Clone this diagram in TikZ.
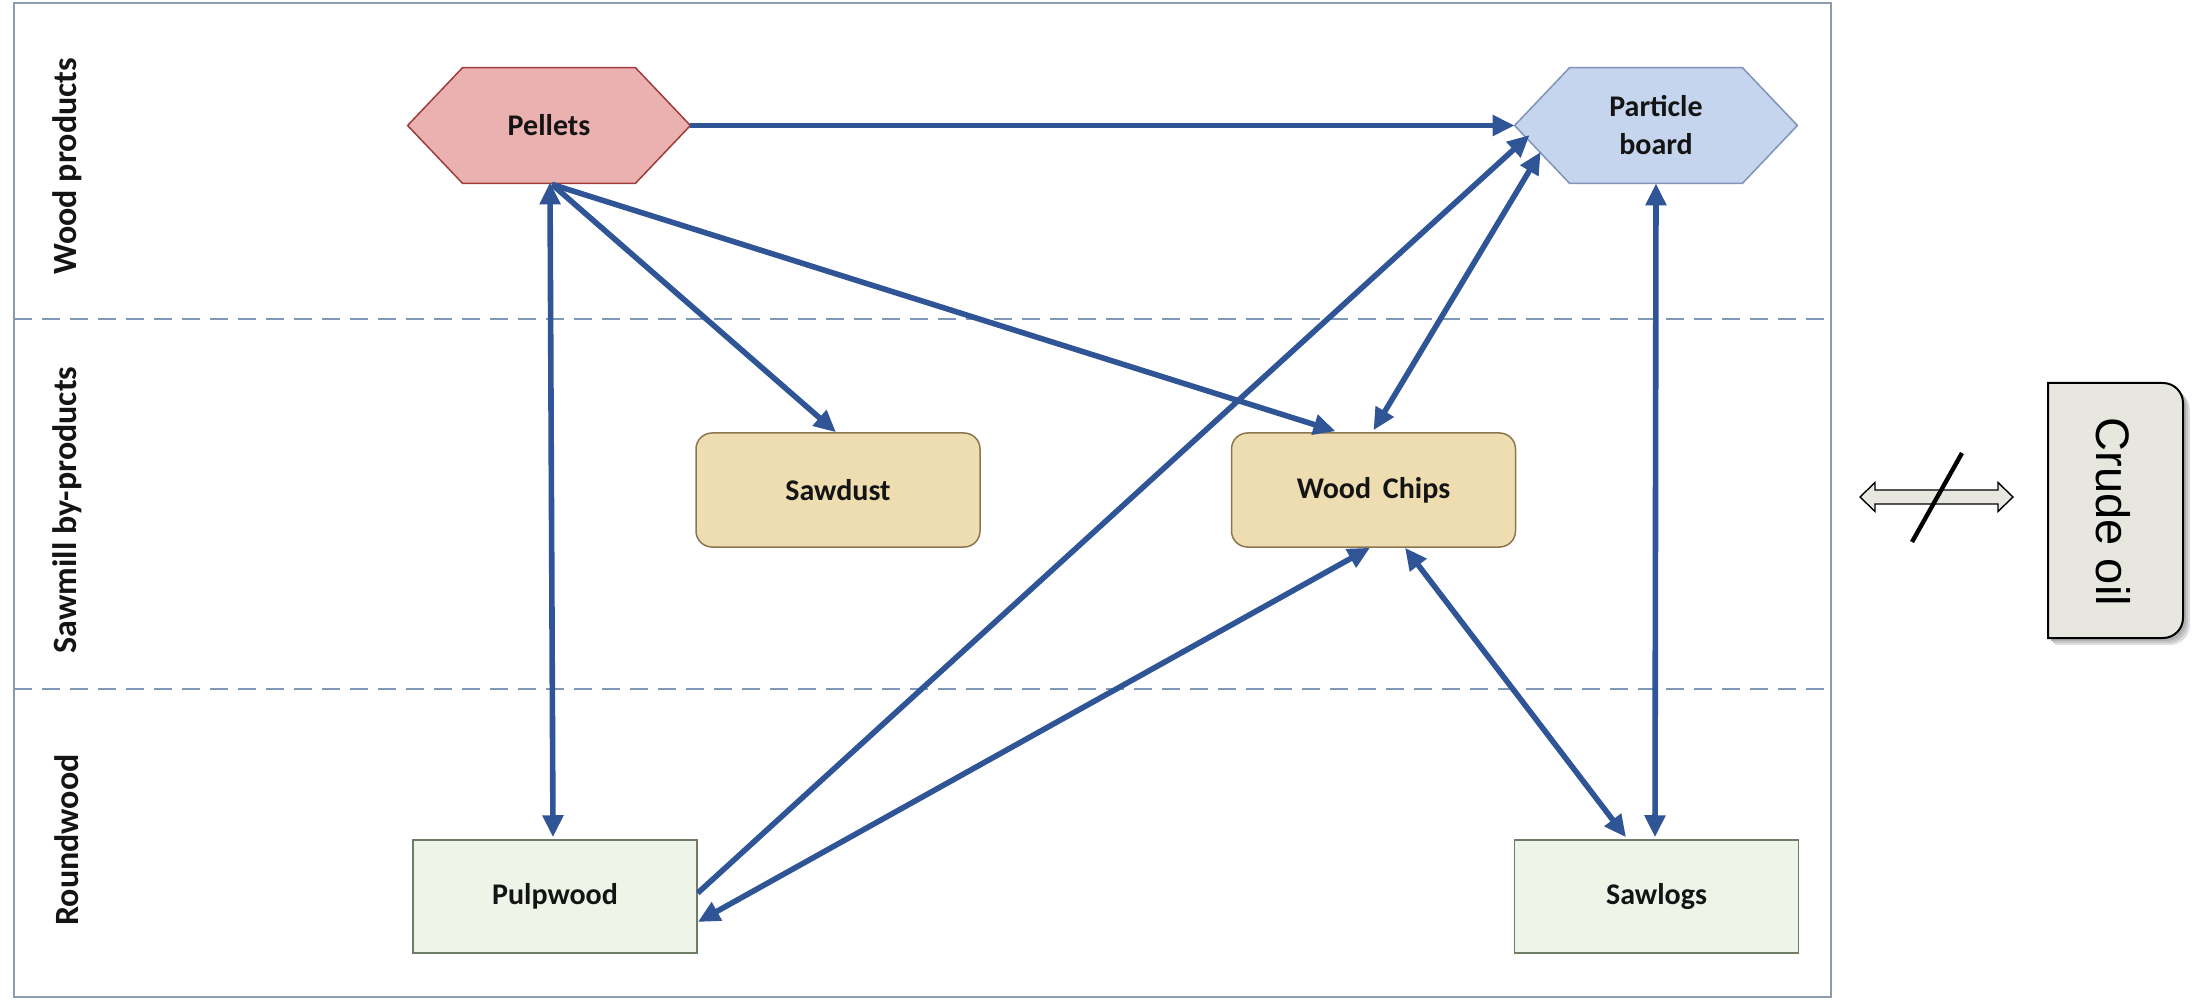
\documentclass[tikz,border=0pt]{standalone}
\usepackage{fontspec}
\setmainfont{Carlito}
\newfontfamily\arialfont{Liberation Sans}
\usetikzlibrary{arrows.meta,calc}

\definecolor{linkblue}{HTML}{2F5597}
\definecolor{pelfill}{HTML}{EBB0B0}
\definecolor{peldraw}{HTML}{9E3B3B}
\definecolor{pbfill}{HTML}{C6D5EE}
\definecolor{pbdraw}{HTML}{7F93B5}
\definecolor{tanfill}{HTML}{EEDDB0}
\definecolor{tandraw}{HTML}{8C7650}
\definecolor{grnfill}{HTML}{EEF4E8}
\definecolor{grndraw}{HTML}{6E7D66}
\definecolor{framecol}{HTML}{8C9CAE}
\definecolor{dashcol}{HTML}{7F98B9}
\definecolor{oilfill}{HTML}{E7E7DF}
\definecolor{txt}{HTML}{141414}

\pgfdeclarelayer{bg}
\pgfsetlayers{bg,main}

\tikzset{
  lbl/.style={font=\bfseries\fontsize{15}{19}\selectfont, text=txt, align=center},
  hexnode/.style={lbl, minimum width=141pt, minimum height=57.5pt, inner sep=0pt},
  roundbox/.style={lbl, draw=tandraw, fill=tanfill, line width=0.75pt,
    rounded corners=8pt, minimum width=142pt, minimum height=57pt},
  sqbox/.style={lbl, draw=grndraw, fill=grnfill, line width=0.75pt,
    minimum width=142pt, minimum height=56.5pt},
  rowlabel/.style={font=\bfseries\fontsize{17}{20}\selectfont, text=txt, rotate=90},
  link/.style={draw=linkblue, line width=2.8pt, -{Triangle[length=11pt,width=10pt]}},
  link2/.style={draw=linkblue, line width=2.8pt, {Triangle[length=11pt,width=10pt]}-{Triangle[length=11pt,width=10pt]}},
}

\begin{document}
\begin{tikzpicture}[x=0.5pt,y=-0.5pt]
\useasboundingbox (0,0) rectangle (2192,1000);

% outer frame and row separators
\draw[framecol, line width=1pt] (14,3) rectangle (1831,997);
\draw[dashcol, line width=0.8pt, dash pattern=on 9pt off 5pt] (14,319) -- (1831,319);
\draw[dashcol, line width=0.8pt, dash pattern=on 9pt off 5pt] (14,689) -- (1831,689);

% row labels
\node[rowlabel] (rwood) at (67,166) {Wood products};
\node[rowlabel] (rsaw) at (67,510) {Sawmill by-products};
\node[rowlabel] (rround) at (67,840) {Roundwood};

% product nodes
\node[hexnode] (pel) at (549,125.5) {Pellets};
\node[hexnode] (pb) at (1656,125.5) {Particle\\board};
\node[roundbox] (saw) at (838,490) {Sawdust};
\node[roundbox] (wc) at (1373.5,490) {Wood\ \,Chips};
\node[sqbox] (pulp) at (555,896.5) {Pulpwood};
\node[sqbox] (logs) at (1656.5,896.5) {Sawlogs};

% hexagon outlines behind the product labels
\begin{pgfonlayer}{bg}
  \foreach \n/\f/\d in {pel/pelfill/peldraw, pb/pbfill/pbdraw}{
    \draw[fill=\f, draw=\d, line width=0.75pt]
      (\n.west) -- ($(\n.north west)+(55,0)$) -- ($(\n.north east)+(-55,0)$)
      -- (\n.east) -- ($(\n.south east)+(-55,0)$) -- ($(\n.south west)+(55,0)$) -- cycle;
  }
\end{pgfonlayer}

% connectors
\draw[link] (pel.east) -- (pb.west);
\draw[link2] ($(pel.south)+(1,-1)$) -- ($(pulp.north)+(-2,-2)$);
\draw[link] ($(pel.south)+(3,1)$) -- ($(saw.north)+(-2,0)$);
\draw[link] ($(pel.south)+(3,1)$) -- ($(wc.north)+(-38,-1)$);
\draw[link] ($(pulp.east)+(0,-3.5)$) -- ($(pb.west)+(15,9.5)$);
\draw[link2] ($(wc.south)+(-3.5,0)$) -- ($(pulp.east)+(0,25.5)$);
\draw[link2] ($(wc.north)+(0,-2)$) -- ($(pb.west)+(26,26.5)$);
\draw[link2] ($(wc.south)+(31.5,0)$) -- ($(logs.north)+(-30.5,-2)$);
\draw[link2] (pb.south) -- ($(logs.north)+(-1.5,-2)$);

% crude oil box with soft shadow
\foreach \s/\c in {7/black!12, 5/black!22, 3/black!30}{
  \fill[\c] ($(2048,383)+(\s,\s)$) -- ($(2163,383)+(\s,\s)$)
    arc[start angle=90, end angle=0, radius=10pt] -- ($(2183,618)+(\s,\s)$)
    arc[start angle=0, end angle=-90, radius=10pt] -- ($(2048,638)+(\s,\s)$) -- cycle;
}
\draw[fill=oilfill, draw=black, line width=1pt] (2048,383) -- (2163,383)
  arc[start angle=90, end angle=0, radius=10pt] -- (2183,618)
  arc[start angle=0, end angle=-90, radius=10pt] -- (2048,638) -- cycle;
\node[font=\arialfont\fontsize{23.5}{26}\selectfont, rotate=-90] (crude) at (2113,512) {Crude oil};

% hollow two-way arrow, struck through
\draw[fill=oilfill, draw=black, line width=0.7pt]
  (1860,497) -- (1875,482.5) -- (1875,490) -- (1998,490) -- (1998,482.5)
  -- (2013,497) -- (1998,511.5) -- (1998,504) -- (1875,504) -- (1875,511.5) -- cycle;
\draw[black, line width=2.2pt] (1912,542) -- (1962,453);
\end{tikzpicture}
\end{document}
